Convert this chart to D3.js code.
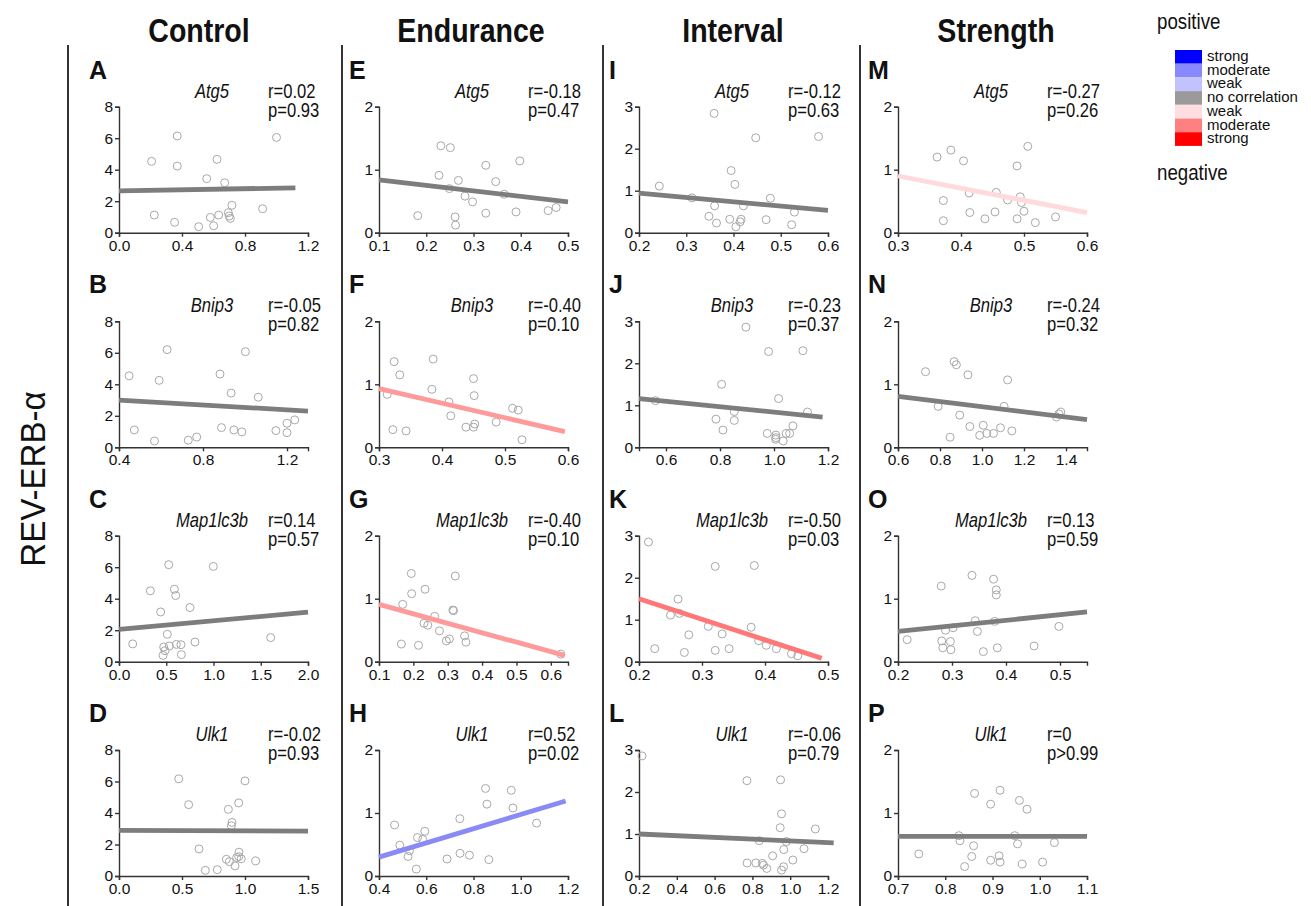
<!DOCTYPE html>
<html><head><meta charset="utf-8">
<script src="https://cdn.jsdelivr.net/npm/d3@7"></script>
<style>
body{margin:0;background:#fff;}
svg{display:block;}
text{font-family:"Liberation Sans",Arial,sans-serif;}
</style></head><body>
<svg id="c" width="1311" height="906"></svg>
<script>
const groups = ["Control","Endurance","Interval","Strength"];
const genes = ["Atg5","Bnip3","Map1lc3b","Ulk1"];
const letters = ["A","B","C","D","E","F","G","H","I","J","K","L","M","N","O","P"];
const rTexts = ["r=0.02","r=-0.05","r=0.14","r=-0.02","r=-0.18","r=-0.40","r=-0.40","r=0.52","r=-0.12","r=-0.23","r=-0.50","r=-0.06","r=-0.27","r=-0.24","r=0.13","r=0"];
const pTexts = ["p=0.93","p=0.82","p=0.57","p=0.93","p=0.47","p=0.10","p=0.10","p=0.02","p=0.63","p=0.37","p=0.03","p=0.79","p=0.26","p=0.32","p=0.59","p>0.99"];
const corrClass = ["none","none","none","none","none","modNeg","modNeg","modPos","none","none","modNegHi","none","weakNeg","none","none","none"];
const yMaxByGroup = [8,2,3,2];
const yTicksByGroup = [[0,2,4,6,8],[0,1,2],[0,1,2,3],[0,1,2]];
const xDomains = [[0,1.2],[0.4,1.3],[0,2],[0,1.5],[0.1,0.5],[0.3,0.6],[0.1,0.65],[0.4,1.2],[0.2,0.6],[0.5,1.2],[0.2,0.5],[0.2,1.2],[0.3,0.6],[0.6,1.5],[0.2,0.55],[0.7,1.1]];
const xTicks = [[0,0.4,0.8,1.2],[0.4,0.8,1.2],[0,0.5,1,1.5,2],[0,0.5,1,1.5],[0.1,0.2,0.3,0.4,0.5],[0.3,0.4,0.5,0.6],[0.1,0.2,0.3,0.4,0.5,0.6],[0.4,0.6,0.8,1.0,1.2],[0.2,0.3,0.4,0.5,0.6],[0.6,0.8,1.0,1.2],[0.2,0.3,0.4,0.5],[0.2,0.4,0.6,0.8,1.0,1.2],[0.3,0.4,0.5,0.6],[0.6,0.8,1.0,1.2,1.4],[0.2,0.3,0.4,0.5],[0.7,0.8,0.9,1.0,1.1]];
// regression line endpoints [x0,y0,x1,y1]
const fits = [[0,2.65,1.12,2.85],[0.4,3.0,1.3,2.3],[0,2.05,2,3.15],[0,2.9,1.5,2.85],[0.1,0.84,0.5,0.49],[0.3,0.93,0.595,0.25],[0.1,0.91,0.64,0.1],[0.4,0.3,1.19,1.19],[0.2,0.94,0.6,0.53],[0.5,1.16,1.18,0.72],[0.2,1.5,0.49,0.08],[0.2,1.0,1.23,0.79],[0.3,0.9,0.6,0.32],[0.6,0.81,1.5,0.44],[0.2,0.48,0.55,0.79],[0.7,0.63,1.1,0.63]];

const ptsA = [[0.37,6.14],[1.0,6.05],[0.207,4.53],[0.622,4.66],[0.37,4.23],[0.557,3.43],[0.671,3.17],[0.717,1.74],[0.912,1.52],[0.224,1.12],[0.58,0.97],[0.633,1.12],[0.694,1.27],[0.70,1.06],[0.707,0.91],[0.353,0.66],[0.506,0.38],[0.601,0.44]];
const ptsB = [[0.629,6.2],[1.002,6.07],[0.448,4.54],[0.591,4.25],[0.881,4.65],[0.934,3.44],[1.063,3.18],[0.473,1.10],[0.569,0.40],[0.73,0.45],[0.77,0.65],[0.888,1.25],[0.947,1.1],[0.985,0.98],[1.147,1.06],[1.2,1.53],[1.2,0.93],[1.237,1.74]];
const ptsC = [[0.526,6.16],[0.998,6.05],[0.332,4.5],[0.586,4.6],[0.6,4.2],[0.751,3.44],[0.441,3.16],[0.511,1.74],[1.605,1.53],[0.145,1.13],[0.804,1.25],[0.607,1.1],[0.656,1.08],[0.473,0.93],[0.533,1.0],[0.487,0.7],[0.466,0.4],[0.66,0.45]];
const ptsD = [[0.474,6.17],[1.0,6.04],[0.553,4.53],[0.95,4.64],[0.868,4.23],[0.897,3.4],[0.892,3.19],[0.635,1.72],[0.952,1.51],[0.95,1.23],[0.97,1.09],[0.852,1.06],[0.876,0.91],[0.921,0.64],[1.085,0.96],[0.685,0.36],[0.78,0.4],[0.934,1.17]];
const ptsE = [[0.231,1.38],[0.251,1.35],[0.398,1.14],[0.326,1.07],[0.227,0.91],[0.268,0.83],[0.347,0.81],[0.249,0.70],[0.282,0.58],[0.365,0.61],[0.298,0.49],[0.182,0.27],[0.261,0.25],[0.326,0.31],[0.39,0.33],[0.458,0.35],[0.475,0.4],[0.262,0.12]];
const ptsF = [[0.324,1.36],[0.386,1.40],[0.333,1.15],[0.45,1.09],[0.384,0.92],[0.313,0.84],[0.411,0.72],[0.451,0.82],[0.512,0.62],[0.521,0.59],[0.414,0.5],[0.486,0.4],[0.438,0.32],[0.45,0.32],[0.452,0.37],[0.322,0.28],[0.343,0.26],[0.527,0.12]];
const ptsG = [[0.194,1.40],[0.322,1.36],[0.234,1.15],[0.195,1.08],[0.169,0.91],[0.315,0.82],[0.317,0.81],[0.262,0.72],[0.231,0.61],[0.242,0.58],[0.276,0.49],[0.349,0.41],[0.305,0.36],[0.296,0.33],[0.353,0.31],[0.165,0.28],[0.215,0.26],[0.629,0.12]];
const ptsH = [[0.851,1.39],[0.96,1.36],[0.857,1.14],[0.967,1.08],[0.742,0.91],[1.067,0.84],[0.466,0.81],[0.594,0.71],[0.563,0.61],[0.585,0.58],[0.488,0.49],[0.529,0.4],[0.523,0.31],[0.688,0.27],[0.743,0.36],[0.783,0.33],[0.865,0.26],[0.558,0.11]];
const ptsI = [[0.359,2.84],[0.447,2.26],[0.58,2.29],[0.395,1.48],[0.403,1.15],[0.243,1.11],[0.312,0.83],[0.478,0.82],[0.36,0.64],[0.421,0.64],[0.529,0.49],[0.348,0.39],[0.364,0.23],[0.392,0.32],[0.416,0.32],[0.414,0.26],[0.469,0.31],[0.405,0.14],[0.523,0.19]];
const ptsJ = [[0.896,2.86],[0.98,2.28],[1.107,2.3],[0.806,1.50],[1.017,1.16],[0.561,1.11],[0.853,0.85],[1.124,0.84],[0.785,0.67],[0.853,0.64],[1.07,0.51],[0.811,0.41],[0.975,0.33],[1.007,0.29],[1.007,0.23],[1.006,0.19],[1.045,0.33],[1.058,0.33],[1.034,0.15]];
const ptsK = [[0.215,2.85],[0.321,2.27],[0.383,2.29],[0.262,1.49],[0.25,1.11],[0.264,1.15],[0.378,0.82],[0.31,0.84],[0.279,0.64],[0.332,0.66],[0.39,0.5],[0.402,0.39],[0.418,0.31],[0.225,0.31],[0.272,0.22],[0.321,0.27],[0.343,0.31],[0.442,0.19],[0.452,0.14]];
const ptsL = [[0.216,2.86],[0.771,2.27],[0.949,2.29],[0.954,1.48],[0.947,1.15],[1.133,1.12],[0.836,0.84],[0.98,0.82],[0.966,0.63],[1.073,0.65],[0.907,0.48],[1.014,0.38],[0.772,0.31],[0.818,0.31],[0.852,0.30],[0.859,0.26],[0.876,0.18],[0.965,0.22],[0.954,0.14]];
const ptsM = [[0.506,1.37],[0.384,1.31],[0.362,1.2],[0.404,1.14],[0.489,1.06],[0.413,0.63],[0.456,0.64],[0.494,0.57],[0.474,0.52],[0.496,0.48],[0.372,0.51],[0.5,0.34],[0.414,0.32],[0.454,0.33],[0.438,0.22],[0.489,0.22],[0.55,0.25],[0.372,0.19],[0.518,0.16]];
const ptsN = [[0.867,1.36],[0.878,1.31],[0.731,1.2],[0.933,1.15],[1.122,1.07],[1.105,0.65],[0.791,0.65],[0.894,0.51],[1.355,0.48],[1.366,0.53],[1.375,0.56],[0.942,0.33],[1.006,0.35],[1.088,0.31],[1.142,0.26],[1.023,0.22],[1.055,0.22],[0.989,0.19],[0.848,0.16]];
const ptsO = [[0.337,1.37],[0.377,1.31],[0.28,1.2],[0.382,1.14],[0.382,1.06],[0.343,0.65],[0.379,0.64],[0.302,0.54],[0.288,0.5],[0.347,0.48],[0.498,0.56],[0.217,0.35],[0.281,0.33],[0.297,0.32],[0.283,0.22],[0.298,0.19],[0.384,0.22],[0.358,0.16],[0.452,0.25]];
const ptsP = [[0.916,1.36],[0.862,1.31],[0.957,1.2],[0.896,1.14],[0.973,1.06],[0.829,0.64],[0.947,0.64],[0.831,0.56],[0.86,0.48],[0.953,0.51],[1.031,0.53],[0.744,0.35],[0.856,0.31],[0.914,0.32],[0.896,0.25],[0.916,0.22],[0.963,0.19],[1.006,0.22],[0.841,0.15]];
const allPts = [ptsA,ptsB,ptsC,ptsD,ptsE,ptsF,ptsG,ptsH,ptsI,ptsJ,ptsK,ptsL,ptsM,ptsN,ptsO,ptsP];

const legendLabels = ["strong","moderate","weak","no correlation","weak","moderate","strong"];
const legendColors = ["#0000ff","#8888ff","#c2c2ff","#9a9a9a","#ffdde1","#ff8080","#ff0000"];
const lineColors = {none:"#7d7d7d", modNeg:"#ff9a9a", modNegHi:"#ff7777", modPos:"#8a8af7", weakNeg:"#ffdadd"};

// ---- layout ----
const svg = d3.select("#c");
const colAxisX = [119, 379, 639, 898];
const rowBase = [232.7, 447.3, 661.7, 876];
const PW = 189, PH = 126;
const titleX = [199, 471, 733, 996];
const sepX = [68, 342, 603, 860];
const NX = 0.83; // narrow-font horizontal scale

function ntext(parent, x, y, size, txt, sx, extra){
  const t = parent.append("text")
    .attr("transform",`translate(${x},${y}) scale(${sx},1)`)
    .attr("font-size",size).attr("fill","#111").text(txt);
  if(extra) extra(t);
  return t;
}

groups.forEach((g,i)=>{
  ntext(svg, titleX[i], 42, 34, g, 0.84, t=>t.attr("text-anchor","middle").attr("font-weight","bold"));
  svg.append("line").attr("x1",sepX[i]).attr("x2",sepX[i]).attr("y1",45).attr("y2",906)
    .attr("stroke","#333").attr("stroke-width",2);
});

svg.append("text").attr("transform","translate(45,479) rotate(-90) scale(0.92,1)")
  .attr("text-anchor","middle").attr("font-size",36).attr("fill","#111").text("REV-ERB-α");

for(let c=0;c<4;c++){
  for(let r=0;r<4;r++){
    const k = c*4+r;
    const ox = colAxisX[c], oy = rowBase[r];
    const x = d3.scaleLinear().domain(xDomains[k]).range([ox, ox+PW]);
    const y = d3.scaleLinear().domain([0,yMaxByGroup[c]]).range([oy, oy-PH]);
    const g = svg.append("g");
    const xa = g.append("g").attr("transform",`translate(0,${oy})`)
      .call(d3.axisBottom(x).tickValues(xTicks[k]).tickFormat(d3.format(".1f")).tickSizeOuter(0).tickSize(4).tickPadding(3));
    const ya = g.append("g").attr("transform",`translate(${ox},0)`)
      .call(d3.axisLeft(y).tickValues(yTicksByGroup[c]).tickFormat(d3.format("d")).tickSizeOuter(0).tickSize(4).tickPadding(2));
    [xa,ya].forEach(a=>{
      a.selectAll("path,line").attr("stroke","#333").attr("stroke-width",1.4);
      a.selectAll("text").attr("font-family","Liberation Sans, Arial, sans-serif").attr("font-size",15.5).attr("fill","#111");
    });
    g.selectAll("circle").data(allPts[k]).enter().append("circle")
      .attr("cx",d=>x(d[0])).attr("cy",d=>y(d[1])).attr("r",4)
      .attr("fill","none").attr("stroke","#a8a8a8").attr("stroke-width",1);
    const f = fits[k];
    g.append("line").attr("x1",x(f[0])).attr("y1",y(f[1])).attr("x2",x(f[2])).attr("y2",y(f[3]))
      .attr("stroke",lineColors[corrClass[k]]).attr("stroke-width",4.8);
    g.append("text").attr("x",ox-30).attr("y",oy-154)
      .attr("font-weight","bold").attr("font-size",25).attr("fill","#111").text(letters[k]);
    ntext(g, ox+93, oy-135, 20, genes[r], NX, t=>t.attr("text-anchor","middle").attr("font-style","italic"));
    ntext(g, ox+149, oy-135, 20, rTexts[k], NX);
    ntext(g, ox+149, oy-116, 20, pTexts[k], NX);
  }
}

// legend
ntext(svg, 1157, 29, 22, "positive", 0.85);
ntext(svg, 1157, 180, 22, "negative", 0.85);
const lg = svg.append("g");
lg.selectAll("rect").data(legendColors).enter().append("rect")
  .attr("x",1175).attr("y",(d,i)=>50+i*13.7).attr("width",27).attr("height",13.7).attr("fill",d=>d);
lg.selectAll("text").data(legendLabels).enter().append("text")
  .attr("x",1207).attr("y",(d,i)=>61+i*13.7).attr("font-size",15).attr("fill","#111").text(d=>d);
</script></body></html>
